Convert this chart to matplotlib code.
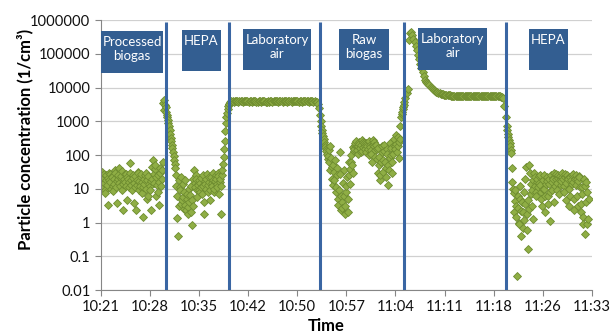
import matplotlib
matplotlib.use("Agg")
import matplotlib.pyplot as plt
from matplotlib.patches import Rectangle
from matplotlib.ticker import NullLocator
import numpy as np

plt.rcParams['font.family'] = ['Lato', 'DejaVu Sans']

# particle concentration (1/cm3), one list per phase
# (5 s readings in the scattered phases, 10 s readings in the lab air phases)
processed_biogas = [20, 14, 32, 22, 12, 27, 15, 9, 7.5, 18, 25, 13, 3.4, 21, 18, 30,
                    28, 16, 10, 24, 22, 12, 8.3, 19, 14, 35, 30, 11, 3.8, 17, 19, 26,
                    40, 15, 12, 21, 24, 33, 9, 14, 2.4, 19, 16, 27, 28, 12, 4.7, 23,
                    20, 16, 11, 30, 57, 18, 13, 9, 26, 21, 3.8, 15, 11, 24, 2.4, 13,
                    18, 32, 29, 17, 9, 12, 22, 27, 7.4, 16, 1.5, 11, 14, 20, 25, 30,
                    10, 5, 18, 24, 6, 14, 12, 9, 2.4, 17, 20, 45, 70, 28, 15, 38,
                    50, 22, 6, 13, 25, 8, 3.4, 16, 29, 40, 12, 20, 36, 60,
                    3500, 2200, 4200, 3000, 2600, 1900]
hepa_1 = [1500, 1300, 1100, 880, 700, 540, 430, 330, 260, 200, 160, 120, 95, 72, 55, 40,
          25, 12, 1.4, 6, 0.4, 3, 18, 11, 9, 22, 3.6, 4.5, 5.6, 14, 2.6, 8,
          18, 3.2, 2.3, 5, 7, 2.8, 1.8, 10, 4, 6.5, 12, 2, 0.83, 4.5, 3, 20,
          35, 15, 11, 26, 20, 9, 5.6, 13, 9, 18, 15, 8, 11, 21, 7, 12,
          25, 4, 1.8, 17, 14, 10, 20, 28, 8, 13, 16, 22, 4.5, 9, 22, 15,
          12, 30, 18, 8, 10, 17, 25, 20, 14, 11, 30, 24, 7, 16, 20, 12,
          1.8, 26, 35, 55, 90, 150, 260, 500, 900, 1300, 1800, 2300, 2900, 3200]
lab_air_1 = [3300, 3700, 3850, 3900, 3800, 3950, 3850, 3900, 3800, 3850,
             3950, 3900, 3800, 3850, 3900, 3950, 3850, 3800, 3900, 3850,
             3800, 3900, 3950, 3850, 3800, 3750, 3850, 3900, 3800, 3850,
             3900, 3850, 3800, 3750, 3850, 3800, 3900, 3850, 3800, 3850,
             3900, 3950, 3850, 3800, 3850, 3900, 3850, 3800, 3900, 3950,
             3850, 3800, 3850, 3900, 3850, 3800, 3900, 3850, 3950, 3900,
             3850, 3800, 3900, 3850, 3800, 3850, 3900, 3950, 3900, 3850,
             3800, 3850, 3900, 3850, 3800, 3850, 3750, 3600, 3300, 2400]
raw_biogas = [1500, 1000, 700, 560, 450, 360, 300, 240, 200, 170, 150, 130, 110, 75, 95, 140,
              60, 35, 190, 80, 44, 20, 12.5, 50, 31, 18, 69, 8, 11, 40, 25, 5,
              3.2, 9, 120, 28, 2.3, 6, 4, 2.7, 15, 35, 6.3, 3, 1.8, 8, 12, 22,
              2, 5, 25, 60, 39, 14, 62, 100, 49, 170, 30, 130, 150, 200, 220, 260,
              180, 140, 110, 190, 240, 210, 160, 120, 200, 280, 130, 170, 250, 220, 190, 150,
              120, 230, 210, 180, 150, 100, 260, 200, 170, 140, 110, 60, 200, 280, 240, 180,
              140, 90, 200, 150, 77, 30, 160, 90, 49, 18, 25, 60, 120, 180, 31, 70,
              200, 130, 60, 22, 40, 150, 110, 50, 12.5, 35, 80, 220, 160, 100, 30, 60,
              110, 200, 300, 180, 150, 400, 210, 120, 340, 190, 80, 250, 300, 700, 1300, 1600,
              1900, 2300, 2700, 3100]
lab_air_2 = [3600, 5000, 6800, 9000, 250000, 420000, 440000, 350000, 280000, 220000,
             170000, 130000, 95000, 70000, 50000, 38000, 29000, 22000, 17000, 15000,
             13500, 12500, 11500, 10500, 9700, 9000, 8400, 7900, 7500, 7200,
             7000, 6800, 6600, 6400, 6300, 6200, 6100, 6000, 5900, 5850,
             5800, 5750, 5700, 5700, 5650, 5700, 5600, 5650, 5600, 5700,
             5650, 5600, 5600, 5650, 5550, 5600, 5650, 5600, 5550, 5600,
             5600, 5650, 5550, 5600, 5550, 5600, 5650, 5550, 5500, 5600,
             5550, 5500, 5550, 5600, 5500, 5550, 5500, 5550, 5450, 5500,
             5550, 5500, 5450, 5500, 5450, 5400, 5350, 4800, 2800, 1300]
hepa_2 = [700, 540, 420, 340, 270, 220, 180, 140, 115, 40, 16, 10, 7.4, 2, 4.2, 9,
          1.5, 3, 0.026, 6, 2.7, 1, 0.88, 12, 5, 2.2, 0.4, 4, 2, 0.7, 1.2, 8,
          3.5, 20, 45, 1.8, 0.6, 4.5, 0.16, 2.5, 50, 30, 7, 14, 3, 9, 1.3, 18,
          29, 22, 12, 8, 6, 16, 20, 11, 15, 24, 25, 13, 8, 5, 3, 10,
          18, 26, 10, 6, 2, 14, 22, 17, 6, 3.5, 14, 20, 1.1, 8, 25, 16,
          9, 21, 19, 30, 4, 12, 27, 20, 15, 9, 21, 26, 7, 18, 24, 13,
          17, 23, 29, 20, 12, 8, 22, 27, 4.8, 15, 26, 21, 19, 10, 3, 6,
          23, 18, 14, 25, 28, 16, 2.4, 5, 20, 13, 25, 19, 6, 3, 17, 24,
          22, 11, 3.5, 2, 11, 7, 1.5, 0.9, 19, 12, 0.45, 4, 16, 8, 0.9, 1.3, 5]

# first and last reading of each phase (minutes after 10:00)
phase_windows = [(21.0, 30.58), (30.67, 39.75), (39.83, 53.0),
                 (53.17, 65.42), (65.5, 80.33), (80.5, 92.5)]
# moments the inlet was switched (minutes after 10:00)
switch_times = [30.57, 39.8, 53.1, 65.4, 80.35]
phase_names = ["Processed\nbiogas", "HEPA", "Laboratory\nair", "Raw\nbiogas", "Laboratory\nair", "HEPA"]

time_labels = ["10:21", "10:28", "10:35", "10:42", "10:50", "10:57",
               "11:04", "11:11", "11:18", "11:26", "11:33"]
y_ticks = [0.01, 0.1, 1, 10, 100, 1000, 10000, 100000, 1000000]
y_labels = ["0.01", "0.1", "1", "10", "100", "1000", "10000", "100000", "1000000"]

phases = [processed_biogas, hepa_1, lab_air_1, raw_biogas, lab_air_2, hepa_2]
t = np.concatenate([np.linspace(a, b, len(p)) for (a, b), p in zip(phase_windows, phases)])
conc = np.concatenate(phases)

fig = plt.figure(figsize=(6.1, 3.34), dpi=100)
ax = fig.add_axes([0.1651, 0.1317, 0.8054, 0.8084])

ax.plot(t, conc, linestyle="none", marker="D", markersize=4.2,
        markerfacecolor="#8FAE45", markeredgecolor="#6E8C30", markeredgewidth=0.6, zorder=2)

ax.vlines(switch_times, 0.01, 8.7e5, color="#3A66A3", linewidth=2.2, zorder=3)

ax.set_yscale("log")
ax.set_ylim(0.01, 1e6)
ax.set_xlim(21, 93)
ax.set_yticks(y_ticks)
ax.set_yticklabels(y_labels)
ax.yaxis.set_minor_locator(NullLocator())
ax.set_xticks(np.linspace(21, 93, 11))
ax.set_xticklabels(time_labels)

ax.yaxis.grid(True, color="#D0D0D0", linewidth=0.9)
ax.set_axisbelow(True)
for side in ["top", "right"]:
    ax.spines[side].set_visible(False)
for side in ["left", "bottom"]:
    ax.spines[side].set_color("#868686")
    ax.spines[side].set_linewidth(0.8)
ax.tick_params(axis="both", colors="#868686", labelcolor="#111111",
               labelsize=10.6, length=4, width=0.8)

ax.set_ylabel("Particle concentration (1/cm³)", fontsize=12, fontweight="bold")
ax.yaxis.set_label_coords(-0.138, 0.559)
ax.set_xlabel("Time", fontsize=12, fontweight="bold")
ax.xaxis.set_label_coords(0.459, -0.105)

# label boxes, pixel edges (left, right, top, bottom) of the 610x334 picture
boxes = [(101, 163, 31, 73), (182, 221, 30, 71), (243, 311, 29, 70),
         (339, 389, 29, 70), (418, 487, 28, 70), (529, 568, 29, 70)]
ax_x0, ax_w, ax_y0, ax_h = 100.7, 491.3, 290, 270
for (l, r, top, bot), name in zip(boxes, phase_names):
    x0 = (l - ax_x0) / ax_w
    y0 = (ax_y0 - bot) / ax_h
    rect = Rectangle((x0, y0), (r - l) / ax_w, (bot - top) / ax_h, transform=ax.transAxes,
                     facecolor="#335E91", edgecolor="none", zorder=5, clip_on=False)
    ax.add_patch(rect)
    ax.text(((l + r) / 2 - ax_x0) / ax_w, (ax_y0 - top - 5) / ax_h, name, transform=ax.transAxes,
            ha="center", va="top", color="white", fontsize=9.5, linespacing=1.15, zorder=6)

fig.savefig("out.png", dpi=100)
